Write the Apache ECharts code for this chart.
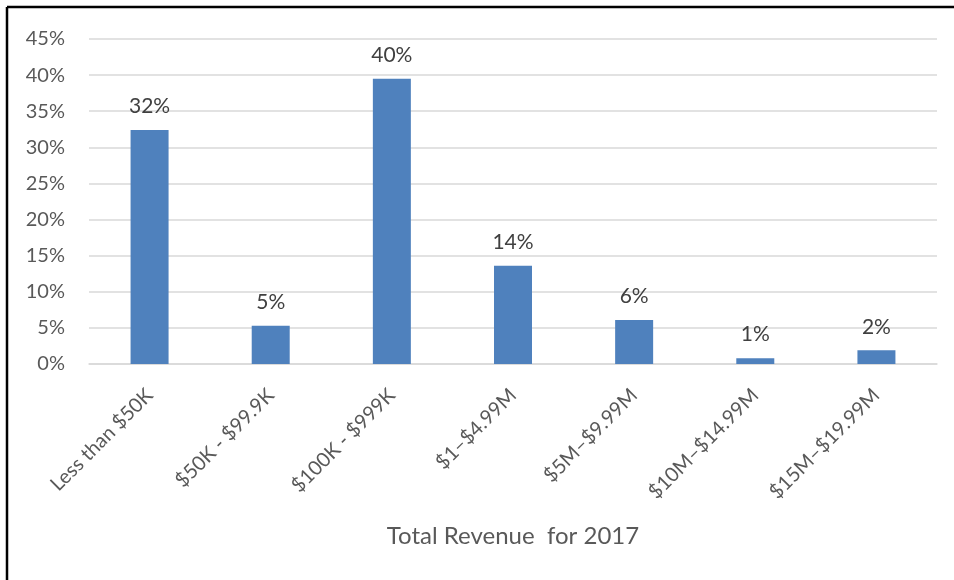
<!DOCTYPE html>
<html>
<head>
<meta charset="utf-8">
<script src="https://cdn.jsdelivr.net/npm/echarts@6/dist/echarts.min.js"></script>
<style>
html,body{margin:0;padding:0;background:#fff;}
#chart{width:954px;height:580px;}
</style>
</head>
<body>
<div id="chart"></div>
<script>
const categories = ['Less than $50K', '$50K - $99.9K', '$100K - $999K', '$1–$4.99M', '$5M–$9.99M', '$10M–$14.99M', '$15M–$19.99M'];
const values = [32.4, 5.3, 39.5, 13.6, 6.1, 0.8, 1.9];
const yTicks = [0, 5, 10, 15, 20, 25, 30, 35, 40, 45];
const axisTitle = 'Total Revenue  for 2017';

const chart = echarts.init(document.getElementById('chart'));
chart.setOption({
  animation: false,
  backgroundColor: '#ffffff',
  grid: {left: 89, right: 17, top: 39, bottom: 216},
  graphic: [
    {type: 'line', shape: {x1: 7, y1: 7, x2: 954, y2: 7}, style: {stroke: '#000', lineWidth: 2.5}},
    {type: 'line', shape: {x1: 7, y1: 7, x2: 7, y2: 580}, style: {stroke: '#000', lineWidth: 2.5}}
  ],
  xAxis: {
    type: 'category',
    data: categories,
    name: axisTitle,
    nameLocation: 'middle',
    nameGap: 160,
    nameTextStyle: {fontFamily: 'Lato', fontSize: 24, color: '#595959'},
    axisLine: {lineStyle: {color: '#d9d9d9', width: 1.5}},
    axisTick: {show: false},
    axisLabel: {rotate: 45, interval: 0, margin: 28, fontFamily: 'Lato', fontSize: 20, color: '#595959'}
  },
  yAxis: {
    type: 'value',
    min: yTicks[0],
    max: yTicks[yTicks.length - 1],
    interval: 5,
    axisLine: {show: false},
    axisTick: {show: false},
    splitLine: {lineStyle: {color: '#d9d9d9', width: 1.5}},
    axisLabel: {margin: 24, fontFamily: 'Lato', fontSize: 20, color: '#595959', formatter: v => v + '%'}
  },
  series: [{
    type: 'bar',
    data: values,
    barWidth: 38,
    itemStyle: {color: '#4f81bd'},
    label: {
      show: true,
      position: 'top',
      distance: 13,
      fontFamily: 'Lato',
      fontSize: 21,
      color: '#404040',
      formatter: p => Math.round(p.value) + '%'
    }
  }]
});
</script>
</body>
</html>
